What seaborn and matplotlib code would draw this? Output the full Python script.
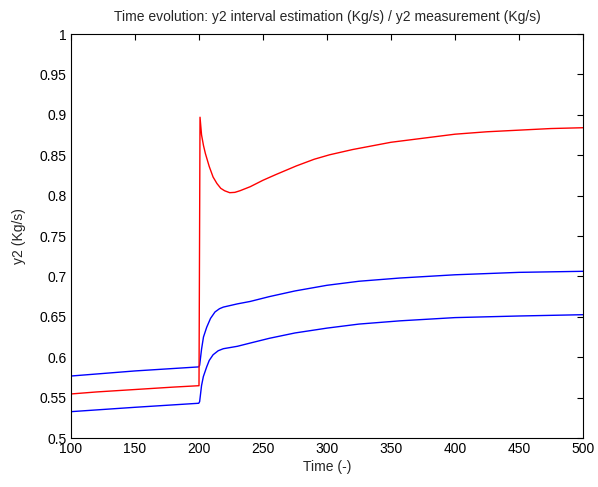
import matplotlib
matplotlib.use("Agg")
import matplotlib.pyplot as plt
import seaborn as sns
import pandas as pd

# Data
t_red = [100, 120, 140, 160, 180, 199.6, 200.0, 200.8, 202, 203.5, 205, 208, 211, 214, 217,
         220, 224, 228, 232, 240, 250, 260, 276, 290, 302, 320, 350, 375, 400, 425, 450, 475, 500]
y_red = [0.5545, 0.557, 0.559, 0.561, 0.563, 0.5647, 0.5647, 0.897, 0.875, 0.862, 0.852, 0.836,
         0.823, 0.815, 0.809, 0.806, 0.8036, 0.804, 0.806, 0.811, 0.819, 0.826, 0.8367, 0.845,
         0.8505, 0.857, 0.866, 0.871, 0.876, 0.879, 0.881, 0.883, 0.884]

t_up = [100, 150, 199.8, 200.5, 202, 203.5, 206, 209, 212.5, 216, 219, 230, 240, 255, 275,
        300, 325, 357, 400, 450, 500]
y_up = [0.5767, 0.583, 0.588, 0.590, 0.610, 0.625, 0.637, 0.648, 0.656, 0.660, 0.662, 0.666,
        0.669, 0.675, 0.682, 0.689, 0.694, 0.698, 0.702, 0.705, 0.7063]

t_low = [100, 150, 199.8, 200.5, 202, 203.4, 206, 208, 211, 215, 219, 230, 240, 255, 275,
         300, 325, 357, 400, 450, 500]
y_low = [0.5326, 0.538, 0.543, 0.545, 0.565, 0.576, 0.588, 0.596, 0.603, 0.608, 0.6105, 0.6135,
         0.6175, 0.6234, 0.630, 0.636, 0.641, 0.645, 0.649, 0.651, 0.6526]

x_ticks = [100, 150, 200, 250, 300, 350, 400, 450, 500]
y_ticks = [0.5, 0.55, 0.6, 0.65, 0.7, 0.75, 0.8, 0.85, 0.9, 0.95, 1.0]
y_tick_labels = ["0.5", "0.55", "0.6", "0.65", "0.7", "0.75", "0.8", "0.85", "0.9", "0.95", "1"]

title = "Time evolution: y2 interval estimation (Kg/s) / y2 measurement (Kg/s)"
xlabel = "Time (-)"
ylabel = "y2 (Kg/s)"

sns.set_style("white")
plt.rcParams['font.family'] = ['Liberation Sans', 'DejaVu Sans']
plt.rcParams['font.size'] = 8

fig = plt.figure(figsize=(5.98, 4.87), dpi=100)
ax = fig.add_axes([71/598, 1 - 438/487, (583 - 71)/598, (438 - 34)/487])

df_up = pd.DataFrame({"t": t_up, "y": y_up})
df_low = pd.DataFrame({"t": t_low, "y": y_low})
df_red = pd.DataFrame({"t": t_red, "y": y_red})

sns.lineplot(data=df_up, x="t", y="y", ax=ax, color="#0000ff", lw=1.0, sort=False, estimator=None)
sns.lineplot(data=df_low, x="t", y="y", ax=ax, color="#0000ff", lw=1.0, sort=False, estimator=None)
sns.lineplot(data=df_red, x="t", y="y", ax=ax, color="#ff0000", lw=1.0, sort=False, estimator=None)

ax.set_xlim(100, 500)
ax.set_ylim(0.5, 1.0)
ax.set_xticks(x_ticks)
ax.set_xticklabels([str(v) for v in x_ticks])
ax.set_yticks(y_ticks)
ax.set_yticklabels(y_tick_labels)
ax.tick_params(direction="in", top=True, right=True, length=4, width=0.8,
               labelsize=10, colors="black", pad=3)
for s in ax.spines.values():
    s.set_visible(True)
    s.set_color("black")
    s.set_linewidth(0.8)

ax.set_title(title, fontsize=10, pad=9)
ax.set_xlabel(xlabel, fontsize=10, labelpad=3)
ax.set_ylabel(ylabel, fontsize=10, labelpad=10)

fig.savefig("out.png", dpi=100)
